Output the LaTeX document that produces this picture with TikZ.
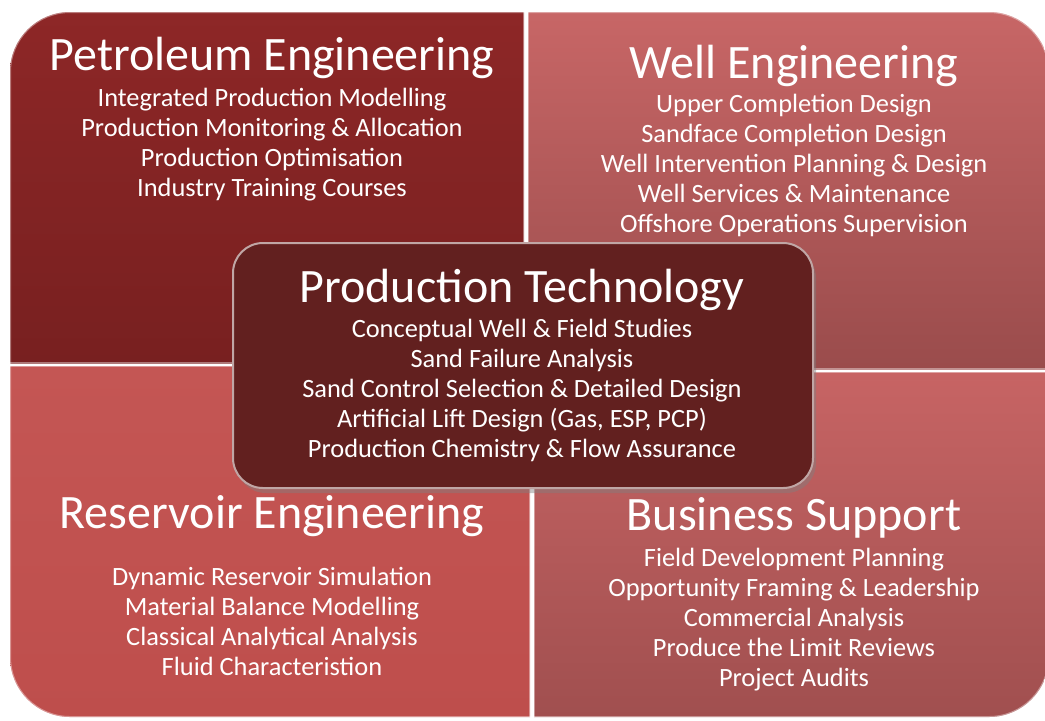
\documentclass[tikz,border=0pt]{standalone}
\usepackage{fontspec}
\setmainfont{Carlito}
\usetikzlibrary{positioning,shadows}

\definecolor{petrolTop}{HTML}{8E2727}
\definecolor{petrolBot}{HTML}{782020}
\definecolor{wellTop}{HTML}{C96767}
\definecolor{wellBot}{HTML}{9A4C4C}
\definecolor{reservTop}{HTML}{C45654}
\definecolor{reservBot}{HTML}{BE4E4C}
\definecolor{busTop}{HTML}{C76464}
\definecolor{busBot}{HTML}{A04F4F}
\definecolor{centreRed}{HTML}{62201F}

\tikzset{
  heading/.style={text=white,font=\fontsize{24}{28}\selectfont,anchor=base,inner sep=0pt},
  % base of a multi-line node is the last line
  items/.style={text=white,font=\fontsize{13.2}{15}\selectfont,align=center,anchor=base,inner sep=0pt},
  bevel/.style={draw=white,draw opacity=0.4,line width=1pt},
  centrebox/.style={rounded corners=15pt,fill=centreRed,draw=white!60!centreRed,line width=1pt,
    drop shadow={opacity=0.45,shadow xshift=1.5pt,shadow yshift=-2.5pt}},
}

\begin{document}
\begin{tikzpicture}[x=0.5pt,y=-0.5pt]
\useasboundingbox (0,0) rectangle (1045,720);
% quadrants
\begin{scope}
  \clip[rounded corners=30pt] (10,12) rectangle (1049,717);
  \shade[top color=petrolTop,bottom color=petrolBot] (0,0) rectangle (524,363);
  \shade[top color=wellTop,bottom color=wellBot] (528,0) rectangle (1060,369);
  \shade[top color=reservTop,bottom color=reservBot] (0,366) rectangle (530,720);
  \shade[top color=busTop,bottom color=busBot] (534,372) rectangle (1060,720);
  \draw[bevel,rounded corners=30pt] (10,12) rectangle (1049,717);
  \draw[bevel] (524,12) -- (524,363) -- (10,363);
  \draw[bevel] (528,12) -- (528,369) -- (1049,369);
  \draw[bevel] (10,366) -- (530,366) -- (530,717);
  \draw[bevel] (1049,372) -- (534,372) -- (534,717);
\end{scope}
% centre panel
\draw[centrebox] (233,243) rectangle (813,488);

\node[heading] (petroHead) at (272,70) {Petroleum Engineering};
\node[items] (petroList) at (272,196) {Integrated Production Modelling\\Production Monitoring \& Allocation\\Production Optimisation\\Industry Training Courses};

\node[heading] (wellHead) at (794,78) {Well Engineering};
\node[items] (wellList) at (794,232) {Upper Completion Design\\Sandface Completion Design\\Well Intervention Planning \& Design\\Well Services \& Maintenance\\Offshore Operations Supervision};

\node[heading] (prodHead) at (522,302) {Production Technology};
\node[items] (prodList) at (522,457) {Conceptual Well \& Field Studies\\Sand Failure Analysis\\Sand Control Selection \& Detailed Design\\Artificial Lift Design (Gas, ESP, PCP)\\Production Chemistry \& Flow Assurance};

\node[heading] (resHead) at (272,528) {Reservoir Engineering};
\node[items] (resList) at (272,675) {Dynamic Reservoir Simulation\\Material Balance Modelling\\Classical Analytical Analysis\\Fluid Characteristion};

\node[heading] (busHead) at (794,530) {Business Support};
\node[items] (busList) at (794,686) {Field Development Planning\\Opportunity Framing \& Leadership\\Commercial Analysis\\Produce the Limit Reviews\\Project Audits};
\end{tikzpicture}
\end{document}
